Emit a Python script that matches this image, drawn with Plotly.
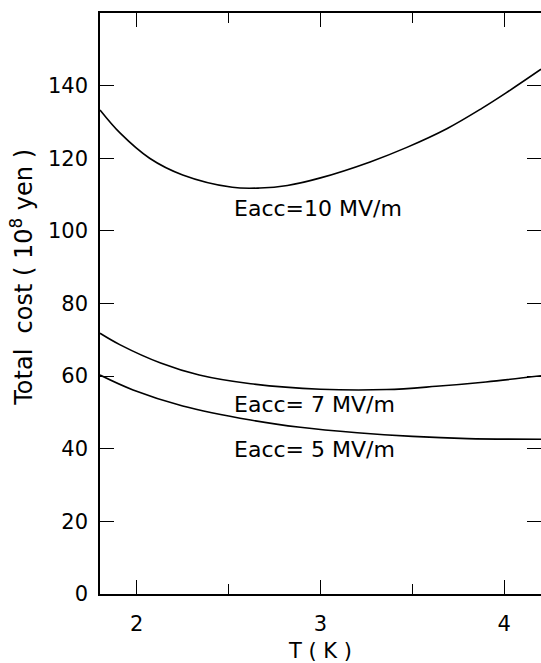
import plotly.graph_objects as go

# Data
T_10 = [1.80, 1.91, 2.07, 2.25, 2.52, 2.67, 2.82, 3.00, 3.27, 3.47, 3.69, 3.88, 4.01, 4.20]
C_10 = [133.3, 126.9, 120.0, 115.4, 112.0, 111.8, 112.5, 114.6, 119.0, 123.0, 128.2, 133.8, 138.0, 144.5]

T_7 = [1.80, 1.91, 2.13, 2.34, 2.62, 3.00, 3.36, 3.63, 3.90, 4.20]
C_7 = [71.8, 68.6, 63.6, 60.3, 57.9, 56.4, 56.3, 57.2, 58.4, 60.1]

T_5 = [1.80, 1.98, 2.25, 2.62, 2.89, 3.20, 3.50, 3.80, 4.20]
C_5 = [60.3, 56.2, 51.8, 47.9, 45.9, 44.4, 43.4, 42.8, 42.6]

labels = ["Eacc=10 MV/m", "Eacc= 7 MV/m", "Eacc= 5 MV/m"]
label_x = [2.52, 2.52, 2.52]
label_y = [106.3, 52.1, 39.7]

x_ticks = [2, 3, 4]
y_ticks = [0, 20, 40, 60, 80, 100, 120, 140]

FONT = "DejaVu Sans"
NB = "\u00a0"

fig = go.Figure()
for tx, cy in [(T_10, C_10), (T_7, C_7), (T_5, C_5)]:
    fig.add_trace(go.Scatter(x=tx, y=cy, mode="lines",
                             line=dict(color="black", width=1.6, shape="spline", smoothing=1.0),
                             showlegend=False, hoverinfo="skip"))

for t, lx, ly in zip(labels, label_x, label_y):
    fig.add_annotation(x=lx, y=ly, text=t, showarrow=False, xanchor="left", yanchor="middle",
                       font=dict(family=FONT, size=22, color="black"))

# y-axis title as a rotated annotation for precise placement
ytitle = f"Total{NB}{NB}cost{NB}({NB}10<sup>8</sup>{NB}yen{NB})"
fig.add_annotation(xref="paper", yref="paper", x=-0.176, y=0.545, text=ytitle,
                   textangle=-90, showarrow=False, xanchor="center", yanchor="middle",
                   font=dict(family=FONT, size=24, color="black"))

fig.update_layout(
    width=541, height=663,
    margin=dict(l=100, r=0, t=13, b=69, autoexpand=False),
    paper_bgcolor="white", plot_bgcolor="white",
    font=dict(family=FONT, color="black"),
)
fig.update_xaxes(
    range=[1.8, 4.2], tickvals=x_ticks, ticks="inside", ticklen=14, tickwidth=1.3,
    tickcolor="black", showline=True, linecolor="black", linewidth=1.5, mirror="ticks",
    showgrid=False, zeroline=False, tickfont=dict(family=FONT, size=21), automargin=False,
    ticklabelstandoff=10,
    minor=dict(dtick=0.5, tick0=1.5, ticks="inside", ticklen=10, tickwidth=1.3, tickcolor="black", showgrid=False),
    title=dict(text="T ( K )", font=dict(family=FONT, size=21), standoff=8),
)
fig.update_yaxes(
    range=[0, 160], tickvals=y_ticks, ticks="inside", ticklen=14, tickwidth=1.3,
    tickcolor="black", showline=True, linecolor="black", linewidth=1.5, mirror="ticks",
    showgrid=False, zeroline=False, tickfont=dict(family=FONT, size=21), automargin=False,
    ticklabelstandoff=6,
)

fig.write_html("out.html", config={"displayModeBar": False},
               post_script="document.body.style.margin='0';document.body.style.overflow='hidden';")
